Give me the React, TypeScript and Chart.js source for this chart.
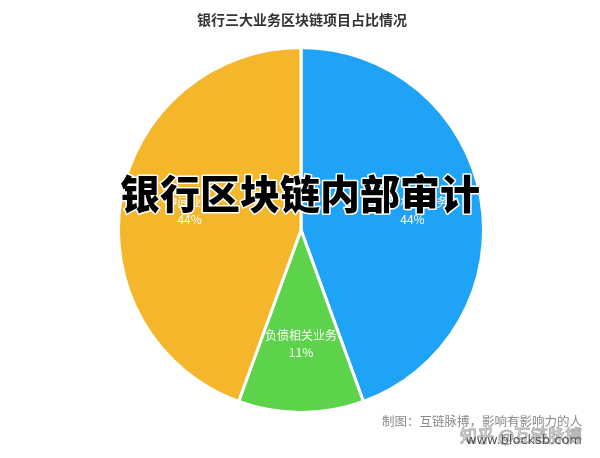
import React, { useEffect, useRef } from "react";
import { Chart, registerables } from "chart.js";

Chart.register(...registerables);

const categories = ["资产相关业务", "负债相关业务", "中间业务"];
const shares = [44, 11, 44];
const percentLabels = ["44%", "11%", "44%"];
const colors = ["#1fa3f7", "#5dd34b", "#f4b62b"];
const titleText = "银行三大业务区块链项目占比情况";
const overlayText = "银行区块链内部审计";
const creditText = "制图：互链脉搏，影响有影响力的人";
const watermark1 = "知乎 @互链脉搏";
const watermark2 = "www.blocksb.com";

const FONT = '"Noto Sans CJK SC", "Noto Sans", sans-serif';

const decorPlugin = {
  id: "decor",
  afterDatasetsDraw(chart: any) {
    const ctx = chart.ctx;
    const meta = chart.getDatasetMeta(0);
    ctx.save();
    // slice labels
    meta.data.forEach((arc: any, i: number) => {
      const { x, y, startAngle, endAngle, outerRadius } = arc.getProps(
        ["x", "y", "startAngle", "endAngle", "outerRadius"],
        true
      );
      const mid = (startAngle + endAngle) / 2;
      const r = outerRadius * 0.62;
      const lx = x + Math.cos(mid) * r;
      const ly = y + Math.sin(mid) * r;
      ctx.fillStyle = "#ffffff";
      ctx.textAlign = "center";
      ctx.textBaseline = "middle";
      ctx.font = `12px ${FONT}`;
      ctx.fillText(categories[i], lx, ly - 8);
      ctx.fillText(percentLabels[i], lx, ly + 9);
    });
    // title
    ctx.fillStyle = "#333333";
    ctx.font = `bold 14px ${FONT}`;
    ctx.textAlign = "center";
    ctx.textBaseline = "middle";
    ctx.fillText(titleText, 302, 20);
    // overlay
    ctx.font = `900 40px ${FONT}`;
    ctx.lineJoin = "round";
    ctx.lineWidth = 3;
    ctx.strokeStyle = "#ffffff";
    ctx.strokeText(overlayText, 300, 194);
    ctx.fillStyle = "#000000";
    ctx.fillText(overlayText, 300, 194);
    // footer
    ctx.textAlign = "right";
    ctx.font = `12.5px ${FONT}`;
    ctx.fillStyle = "#8a8a8a";
    ctx.fillText(creditText, 582, 421);
    ctx.font = `17px ${FONT}`;
    ctx.lineWidth = 1;
    ctx.strokeStyle = "#b0b0b0";
    ctx.fillStyle = "rgba(255,255,255,0.6)";
    ctx.fillText(watermark1, 582, 436);
    ctx.strokeText(watermark1, 582, 436);
    ctx.font = `13px "DejaVu Sans", sans-serif`;
    ctx.fillStyle = "#555555";
    ctx.fillText(watermark2, 582, 441);
    ctx.restore();
  },
};

export default function App() {
  const ref = useRef<HTMLCanvasElement | null>(null);
  useEffect(() => {
    if (!ref.current) return;
    const chart = new Chart(ref.current, {
      type: "pie",
      data: {
        labels: categories,
        datasets: [
          {
            data: shares,
            backgroundColor: colors,
            borderColor: "#ffffff",
            borderWidth: 3,
          },
        ],
      },
      options: {
        responsive: false,
        animation: false,
        layout: { padding: { top: 45, bottom: 43, left: 117, right: 115 } },
        plugins: {
          legend: { display: false },
          title: { display: false },
          tooltip: { enabled: false },
        },
      },
      plugins: [decorPlugin],
    });
    return () => chart.destroy();
  }, []);
  return (
    <div style={{ position: "fixed", left: 0, top: 0, width: 600, height: 458, background: "#fff" }}>
      <canvas ref={ref} width={600} height={458} style={{ display: "block" }} />
    </div>
  );
}
